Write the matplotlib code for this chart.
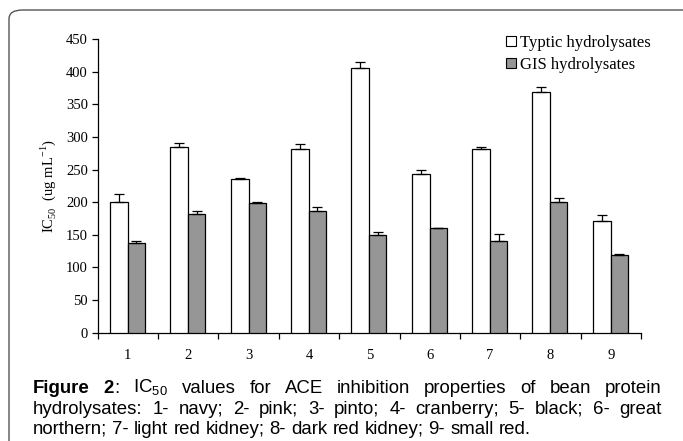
import matplotlib
matplotlib.use('Agg')
import matplotlib.pyplot as plt
import numpy as np
from matplotlib.patches import FancyBboxPatch, Patch

plt.rcParams['mathtext.fontset'] = 'custom'
plt.rcParams['mathtext.rm'] = 'Liberation Serif'
plt.rcParams['mathtext.sf'] = 'Liberation Sans'

categories = ['1', '2', '3', '4', '5', '6', '7', '8', '9']
tryptic = [200, 284, 235.5, 282, 406, 243, 282, 369, 171]
tryptic_err = [12, 6.5, 2, 7, 8, 7, 3, 8, 9.5]
gis = [138, 182, 199, 186.5, 150, 160, 141, 200, 119]
gis_err = [2.5, 5, 1.5, 6.5, 5, 1, 10, 6.5, 1.5]
yticks = [0, 50, 100, 150, 200, 250, 300, 350, 400, 450]

W, H = 683, 441
fig = plt.figure(figsize=(W / 100, H / 100), dpi=100)

# rounded frame around figure
frame = FancyBboxPatch((9 / W, -0.2), 1.2, 1.2 - 10 / H,
                       boxstyle='round,pad=0,rounding_size=0.02',
                       transform=fig.transFigure, facecolor='none',
                       edgecolor='#555555', linewidth=1.0)
fig.patches.append(frame)

ax = fig.add_axes([97.7 / W, 1 - 332.7 / H, (641 - 97.7) / W, (332.7 - 39) / H])
x = np.arange(1, len(categories) + 1)
serif = 'Liberation Serif'
fs = 10.5

ax.bar(x - 0.15, tryptic, 0.30, color='white', edgecolor='black', linewidth=0.9,
       yerr=[np.zeros(len(tryptic)), tryptic_err],
       error_kw=dict(ecolor='black', elinewidth=0.9, capsize=3.3, capthick=0.9), zorder=3)
ax.bar(x + 0.14, gis, 0.28, color='#969696', edgecolor='black', linewidth=0.9,
       yerr=[np.zeros(len(gis)), gis_err],
       error_kw=dict(ecolor='black', elinewidth=0.9, capsize=3.3, capthick=0.9), zorder=3)

ax.set_xlim(0.5, 9.5)
ax.set_ylim(0, 450)
ax.spines['top'].set_visible(False)
ax.spines['right'].set_visible(False)
ax.spines['left'].set_linewidth(0.9)
ax.spines['bottom'].set_linewidth(0.9)
ax.set_yticks(yticks)
ax.set_yticklabels([str(v) for v in yticks], fontfamily=serif, fontsize=fs)
ax.set_xticks(x)
ax.set_xticklabels(categories, fontfamily=serif, fontsize=fs)
ax.set_xticks(np.arange(0.5, 10.0, 1.0), minor=True)
ax.tick_params(axis='x', which='major', length=0, pad=12)
ax.tick_params(axis='x', which='minor', length=4, width=0.9, direction='out')
ax.tick_params(axis='y', length=4, width=0.9, direction='out', pad=3)
ax.set_ylabel(r'IC$_{\mathrm{50}}$  (ug mL$^{\mathrm{-1}}$)', fontfamily=serif, fontsize=fs, labelpad=6)

handles = [Patch(facecolor='white', edgecolor='black', linewidth=0.8),
           Patch(facecolor='#969696', edgecolor='black', linewidth=0.8)]
leg = fig.legend(handles, ['Typtic hydrolysates', 'GIS hydrolysates'],
                 loc='upper left', bbox_to_anchor=(506 / W, 1 - 35 / H),
                 frameon=False, prop={'family': serif, 'size': 12},
                 handlelength=0.6, handleheight=0.6, handletextpad=0.25,
                 labelspacing=0.35, borderaxespad=0, borderpad=0)

# caption with justified text
fig.canvas.draw()
renderer = fig.canvas.get_renderer()
cap_fs = 13.4
sans = 'Liberation Sans'

def seg(t, bold=False):
    return (t, bold)

lines = [
    [[seg('Figure', True)], [seg('2', True), seg(':')], [seg(r'IC$_{\mathsf{50}}$')],
     [seg('values')], [seg('for')], [seg('ACE')], [seg('inhibition')],
     [seg('properties')], [seg('of')], [seg('bean')], [seg('protein')]],
    [[seg(w)] for w in 'hydrolysates: 1- navy; 2- pink; 3- pinto; 4- cranberry; 5- black; 6- great'.split(' ')],
    [[seg(w)] for w in 'northern; 7- light red kidney; 8- dark red kidney; 9- small red.'.split(' ')],
]
baselines = [393, 413.5, 433.5]
x0, x1 = 33, 662

def make(t, bold, xp, yp):
    return fig.text(xp / W, 1 - yp / H, t, fontfamily=sans, fontsize=cap_fs,
                    fontweight='bold' if bold else 'normal', va='baseline', ha='left')

tmp = make('a a', False, 0, 0)
tmp2 = make('aa', False, 0, 0)
space_w = tmp.get_window_extent(renderer).width - tmp2.get_window_extent(renderer).width
tmp.remove(); tmp2.remove()

for li, (words, yb) in enumerate(zip(lines, baselines)):
    objs = []
    widths = []
    for word in words:
        wobjs = []
        ww = 0
        for t, b in word:
            o = make(t, b, 0, yb)
            w = o.get_window_extent(renderer).width
            wobjs.append((o, w))
            ww += w
        objs.append(wobjs)
        widths.append(ww)
    if li < 2:
        gap = (x1 - x0 - sum(widths)) / (len(words) - 1)
    else:
        gap = space_w
    xp = x0
    for wobjs, ww in zip(objs, widths):
        xc = xp
        for o, w in wobjs:
            o.set_x(xc / W)
            xc += w
        xp += ww + gap

fig.savefig('out.png', dpi=100)
